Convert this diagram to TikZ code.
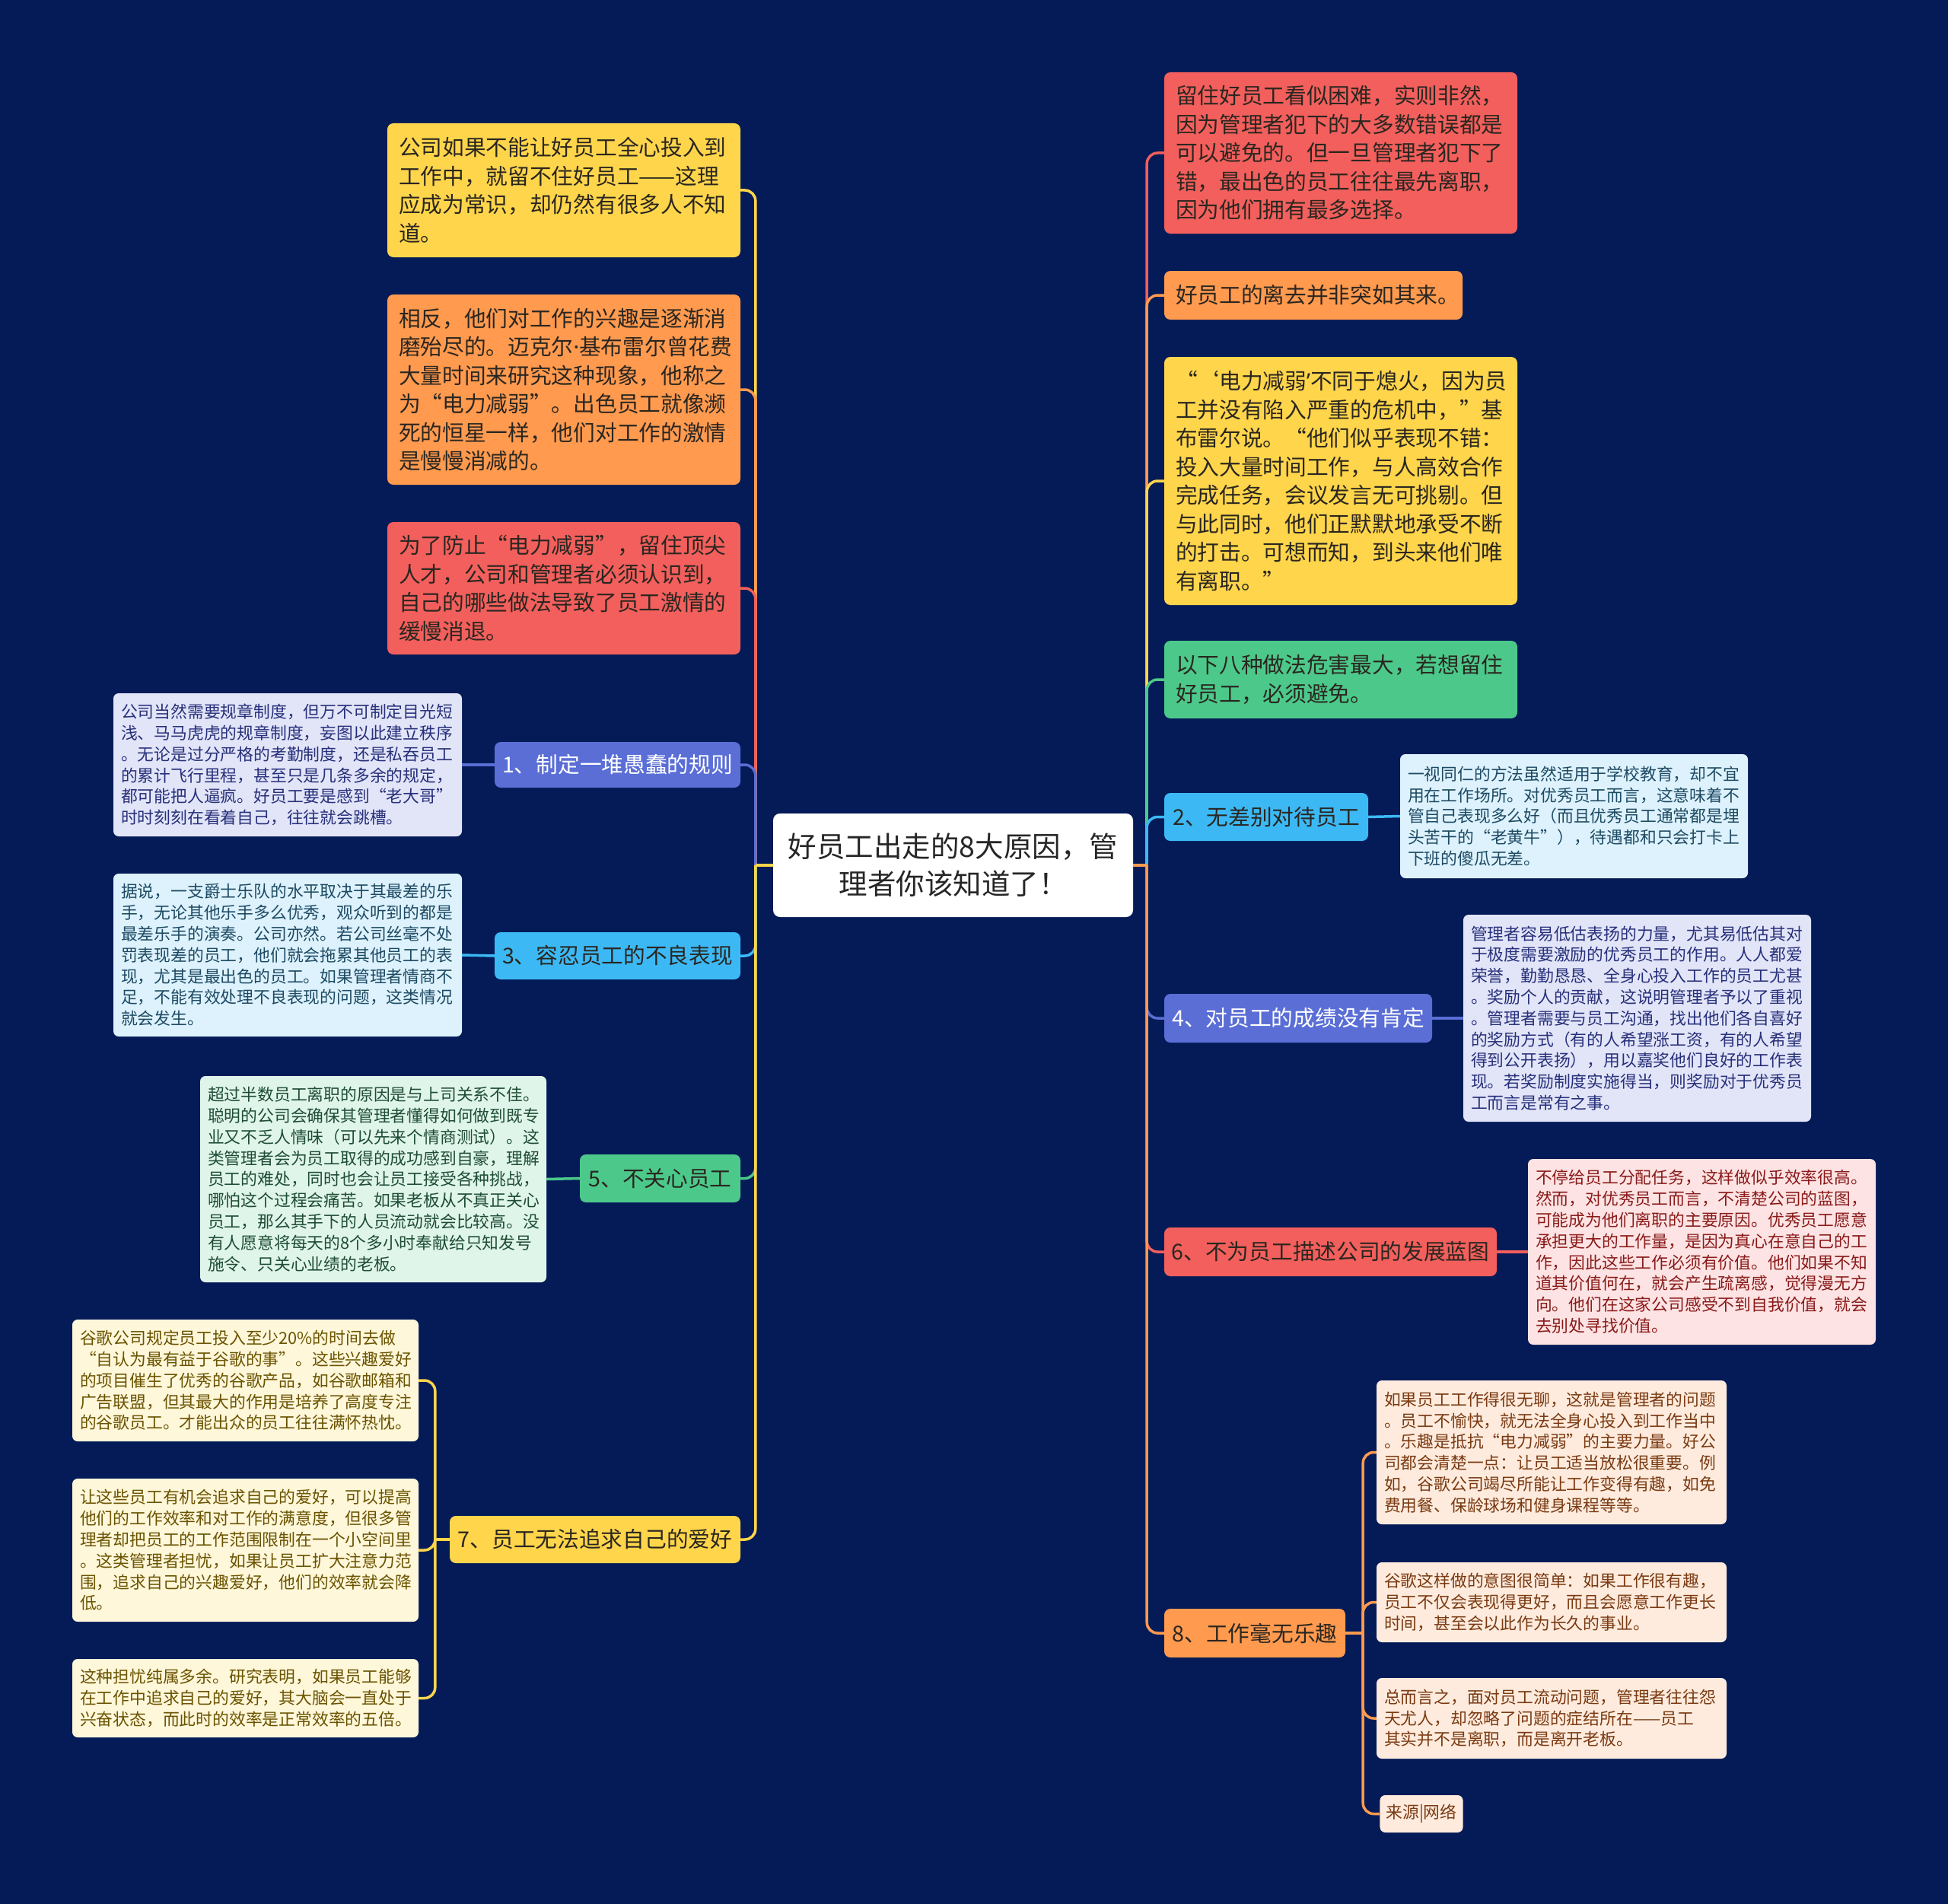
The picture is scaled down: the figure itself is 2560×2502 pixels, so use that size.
\documentclass[tikz,border=0pt]{standalone}
\usepackage{fontspec}
\setmainfont{Noto Sans CJK SC}
\newfontfamily\latinf{Noto Sans}
\definecolor{bgc}{HTML}{041B57}
\definecolor{cyel}{HTML}{FFD54B}
\definecolor{cora}{HTML}{FF9A4F}
\definecolor{cred}{HTML}{F25F5C}
\definecolor{cpur}{HTML}{5A6ED6}
\definecolor{cblu}{HTML}{3CB9F5}
\definecolor{cgrn}{HTML}{4CC98A}
\definecolor{tdark}{HTML}{2A2620}
\definecolor{dlav}{HTML}{E2E5F8}\definecolor{tlav}{HTML}{27307A}
\definecolor{dblu}{HTML}{DDF2FD}\definecolor{tblu}{HTML}{1D4A63}
\definecolor{dgrn}{HTML}{E0F5EA}\definecolor{tgrn}{HTML}{1E4D34}
\definecolor{dyel}{HTML}{FFF7DA}\definecolor{tyel}{HTML}{6A5300}
\definecolor{dpnk}{HTML}{FDE3E3}\definecolor{tpnk}{HTML}{8A1A1A}
\definecolor{dora}{HTML}{FEEBDD}\definecolor{tora}{HTML}{7A3A12}
\newcommand\mainsz{\fontsize{28.7pt}{37.5pt}\selectfont}
\newcommand\detsz{\fontsize{21.8pt}{27.8pt}\selectfont}
\newcommand\censz{\fontsize{37.5pt}{49pt}\selectfont}
\begin{document}
\begin{tikzpicture}[x=1pt,y=-1pt,
  mbox/.style={rounded corners=8pt, inner xsep=15pt, inner ysep=3pt, align=left, font=\mainsz, text=tdark},
  brbox/.style={rounded corners=8pt, inner xsep=8pt, inner ysep=3pt, align=center, font=\mainsz, text=tdark},
  dbox/.style={rounded corners=7pt, inner xsep=10pt, inner ysep=3pt, align=left, font=\detsz},
  conn/.style={line width=3.5pt, rounded corners=14pt},
  link/.style={line width=3.5pt}]
\fill[bgc] (0,0) rectangle (2560,2502);
\useasboundingbox (0,0) rectangle (2560,2502);

% centre
\node[rounded corners=9pt, fill=white, text=black!85, font=\censz, align=center, text width=450pt, minimum width=473pt, minimum height=136pt, inner sep=3pt] (C) at (1252.5,1137) {好员工出走的8大原因，管\\理者你该知道了！};

% left main boxes
\node[mbox, fill=cyel, text width=434pt, minimum height=176pt] (L1) at (741,250) {公司如果不能让好员工全心投入到\\工作中，就留不住好员工——这理\\应成为常识，却仍然有很多人不知\\道。};
\node[mbox, fill=cora, text width=434pt, minimum height=250pt] (L2) at (741,512) {相反，他们对工作的兴趣是逐渐消\\磨殆尽的。迈克尔{\latinf ·}基布雷尔曾花费\\大量时间来研究这种现象，他称之\\为“电力减弱”。出色员工就像濒\\死的恒星一样，他们对工作的激情\\是慢慢消减的。};
\node[mbox, fill=cred, text width=434pt, minimum height=174pt] (L3) at (741,773) {为了防止“电力减弱”，留住顶尖\\人才，公司和管理者必须认识到，\\自己的哪些做法导致了员工激情的\\缓慢消退。};

% left branches
\node[brbox, fill=cpur, text=white, text width=307pt, minimum height=60pt] (B1) at (811.5,1005) {1、制定一堆愚蠢的规则};
\node[brbox, fill=cblu, text width=307pt, minimum height=62pt] (B3) at (811.5,1256) {3、容忍员工的不良表现};
\node[brbox, fill=cgrn, text width=195pt, minimum height=63pt] (B5) at (867.5,1548.5) {5、不关心员工};
\node[brbox, fill=cyel, text width=366pt, minimum height=62pt] (B7) at (782,2023) {7、员工无法追求自己的爱好};

% left details
\node[dbox, fill=dlav, text=tlav, text width=438pt, minimum height=188pt] (D1) at (378,1005) {公司当然需要规章制度，但万不可制定目光短\\浅、马马虎虎的规章制度，妄图以此建立秩序\\。无论是过分严格的考勤制度，还是私吞员工\\的累计飞行里程，甚至只是几条多余的规定，\\都可能把人逼疯。好员工要是感到“老大哥”\\时时刻刻在看着自己，往往就会跳槽。};
\node[dbox, fill=dblu, text=tblu, text width=438pt, minimum height=214pt] (D3) at (378,1255) {据说，一支爵士乐队的水平取决于其最差的乐\\手，无论其他乐手多么优秀，观众听到的都是\\最差乐手的演奏。公司亦然。若公司丝毫不处\\罚表现差的员工，他们就会拖累其他员工的表\\现，尤其是最出色的员工。如果管理者情商不\\足，不能有效处理不良表现的问题，这类情况\\就会发生。};
\node[dbox, fill=dgrn, text=tgrn, text width=435pt, minimum height=271pt] (D5) at (490.5,1549.5) {超过半数员工离职的原因是与上司关系不佳。\\聪明的公司会确保其管理者懂得如何做到既专\\业又不乏人情味（可以先来个情商测试）。这\\类管理者会为员工取得的成功感到自豪，理解\\员工的难处，同时也会让员工接受各种挑战，\\哪怕这个过程会痛苦。如果老板从不真正关心\\员工，那么其手下的人员流动就会比较高。没\\有人愿意将每天的8个多小时奉献给只知发号\\施令、只关心业绩的老板。};
\node[dbox, fill=dyel, text=tyel, text width=435pt, minimum height=160pt] (D7a) at (322.5,1814) {谷歌公司规定员工投入至少20\%的时间去做\\“自认为最有益于谷歌的事”。这些兴趣爱好\\的项目催生了优秀的谷歌产品，如谷歌邮箱和\\广告联盟，但其最大的作用是培养了高度专注\\的谷歌员工。才能出众的员工往往满怀热忱。};
\node[dbox, fill=dyel, text=tyel, text width=435pt, minimum height=188pt] (D7b) at (322.5,2037) {让这些员工有机会追求自己的爱好，可以提高\\他们的工作效率和对工作的满意度，但很多管\\理者却把员工的工作范围限制在一个小空间里\\。这类管理者担忧，如果让员工扩大注意力范\\围，追求自己的兴趣爱好，他们的效率就会降\\低。};
\node[dbox, fill=dyel, text=tyel, text width=435pt, minimum height=103pt] (D7c) at (322.5,2231.5) {这种担忧纯属多余。研究表明，如果员工能够\\在工作中追求自己的爱好，其大脑会一直处于\\兴奋状态，而此时的效率是正常效率的五倍。};

% right main boxes
\node[mbox, fill=cred, text width=434pt, minimum height=212pt] (R1) at (1762,201) {留住好员工看似困难，实则非然，\\因为管理者犯下的大多数错误都是\\可以避免的。但一旦管理者犯下了\\错，最出色的员工往往最先离职，\\因为他们拥有最多选择。};
\node[mbox, fill=cora, text width=362pt, minimum height=64pt] (R2) at (1726,388) {好员工的离去并非突如其来。};
\node[mbox, fill=cyel, text width=434pt, minimum height=326pt] (R3) at (1762,632) {“‘电力减弱{\latinf ’}不同于熄火，因为员\\工并没有陷入严重的危机中，”基\\布雷尔说。“他们似乎表现不错：\\投入大量时间工作，与人高效合作\\完成任务，会议发言无可挑剔。但\\与此同时，他们正默默地承受不断\\的打击。可想而知，到头来他们唯\\有离职。”};
\node[mbox, fill=cgrn, text width=434pt, minimum height=102pt] (R4) at (1762,893) {以下八种做法危害最大，若想留住\\好员工，必须避免。};

% right branches
\node[brbox, fill=cblu, text width=252pt, minimum height=63pt] (B2) at (1664,1073.5) {2、无差别对待员工};
\node[brbox, fill=cpur, text=white, text width=336pt, minimum height=64pt] (B4) at (1706,1338) {4、对员工的成绩没有肯定};
\node[brbox, fill=cred, text width=421pt, minimum height=64pt] (B6) at (1748.5,1645) {6、不为员工描述公司的发展蓝图};
\node[brbox, fill=cora, text width=222pt, minimum height=64pt] (B8) at (1649,2146) {8、工作毫无乐趣};

% right details
\node[dbox, fill=dblu, text=tblu, text width=437pt, minimum height=163pt] (D2) at (2068.5,1072.5) {一视同仁的方法虽然适用于学校教育，却不宜\\用在工作场所。对优秀员工而言，这意味着不\\管自己表现多么好（而且优秀员工通常都是埋\\头苦干的“老黄牛”），待遇都和只会打卡上\\下班的傻瓜无差。};
\node[dbox, fill=dlav, text=tlav, text width=437pt, minimum height=272pt] (D4) at (2151.5,1338) {管理者容易低估表扬的力量，尤其易低估其对\\于极度需要激励的优秀员工的作用。人人都爱\\荣誉，勤勤恳恳、全身心投入工作的员工尤甚\\。奖励个人的贡献，这说明管理者予以了重视\\。管理者需要与员工沟通，找出他们各自喜好\\的奖励方式（有的人希望涨工资，有的人希望\\得到公开表扬），用以嘉奖他们良好的工作表\\现。若奖励制度实施得当，则奖励对于优秀员\\工而言是常有之事。};
\node[dbox, fill=dpnk, text=tpnk, text width=437pt, minimum height=244pt] (D6) at (2236.5,1645) {不停给员工分配任务，这样做似乎效率很高。\\然而，对优秀员工而言，不清楚公司的蓝图，\\可能成为他们离职的主要原因。优秀员工愿意\\承担更大的工作量，是因为真心在意自己的工\\作，因此这些工作必须有价值。他们如果不知\\道其价值何在，就会产生疏离感，觉得漫无方\\向。他们在这家公司感受不到自我价值，就会\\去别处寻找价值。};
\node[dbox, fill=dora, text=tora, text width=440pt, minimum height=189pt] (D8a) at (2039,1908.5) {如果员工工作得很无聊，这就是管理者的问题\\。员工不愉快，就无法全身心投入到工作当中\\。乐趣是抵抗“电力减弱”的主要力量。好公\\司都会清楚一点：让员工适当放松很重要。例\\如，谷歌公司竭尽所能让工作变得有趣，如免\\费用餐、保龄球场和健身课程等等。};
\node[dbox, fill=dora, text=tora, text width=440pt, minimum height=105pt] (D8b) at (2039,2105.5) {谷歌这样做的意图很简单：如果工作很有趣，\\员工不仅会表现得更好，而且会愿意工作更长\\时间，甚至会以此作为长久的事业。};
\node[dbox, fill=dora, text=tora, text width=440pt, minimum height=106pt] (D8c) at (2039,2258) {总而言之，面对员工流动问题，管理者往往怨\\天尤人，却忽略了问题的症结所在——员工\\其实并不是离职，而是离开老板。};
\node[dbox, fill=dora, text=tora, inner xsep=8pt, minimum height=49pt] (D8d) at (1868,2383.5) {来源|网络};

% junctions
\coordinate (LJ) at ([xshift=-23pt]C.west);
\coordinate (RJ) at ([xshift=18pt]C.east);
\coordinate (B7J) at ([xshift=-19pt]B7.west);
\coordinate (B8J) at ([xshift=23pt]B8.east);

% left connectors
\draw[conn, cyel] (LJ) |- (L1.east);
\draw[conn, cora] (LJ) |- (L2.east);
\draw[conn, cred] (LJ) |- (L3.east);
\draw[conn, cpur] (LJ) |- (B1.east);
\draw[conn, cblu] (LJ) |- (B3.east);
\draw[conn, cgrn] (LJ) |- (B5.east);
\draw[conn, cyel] (LJ) |- (B7.east);
\draw[link, cyel] (C.west) -- (LJ);

% right connectors
\draw[conn, cred] (RJ) |- (R1.west);
\draw[conn, cora] (RJ) |- (R2.west);
\draw[conn, cyel] (RJ) |- (R3.west);
\draw[conn, cgrn] (RJ) |- (R4.west);
\draw[conn, cblu] (RJ) |- (B2.west);
\draw[conn, cpur] (RJ) |- (B4.west);
\draw[conn, cred] (RJ) |- (B6.west);
\draw[conn, cora] (RJ) |- (B8.west);
\draw[link, cora] (C.east) -- (RJ);

% detail links
\draw[link, cpur] (B1.west) -- (D1.east);
\draw[link, cblu] (B3.west) -- (D3.east);
\draw[link, cgrn] (B5.west) -- (D5.east);
\draw[link, cyel] (B7.west) -- (B7J);
\draw[conn, cyel] (B7J) |- (D7a.east);
\draw[conn, cyel] (B7J) |- (D7b.east);
\draw[conn, cyel] (B7J) |- (D7c.east);
\draw[link, cblu] (B2.east) -- (D2.west);
\draw[link, cpur] (B4.east) -- (D4.west);
\draw[link, cred] (B6.east) -- (D6.west);
\draw[link, cora] (B8.east) -- (B8J);
\draw[conn, cora] (B8J) |- (D8a.west);
\draw[conn, cora] (B8J) |- (D8b.west);
\draw[conn, cora] (B8J) |- (D8c.west);
\draw[conn, cora] (B8J) |- (D8d.west);
\end{tikzpicture}
\end{document}
